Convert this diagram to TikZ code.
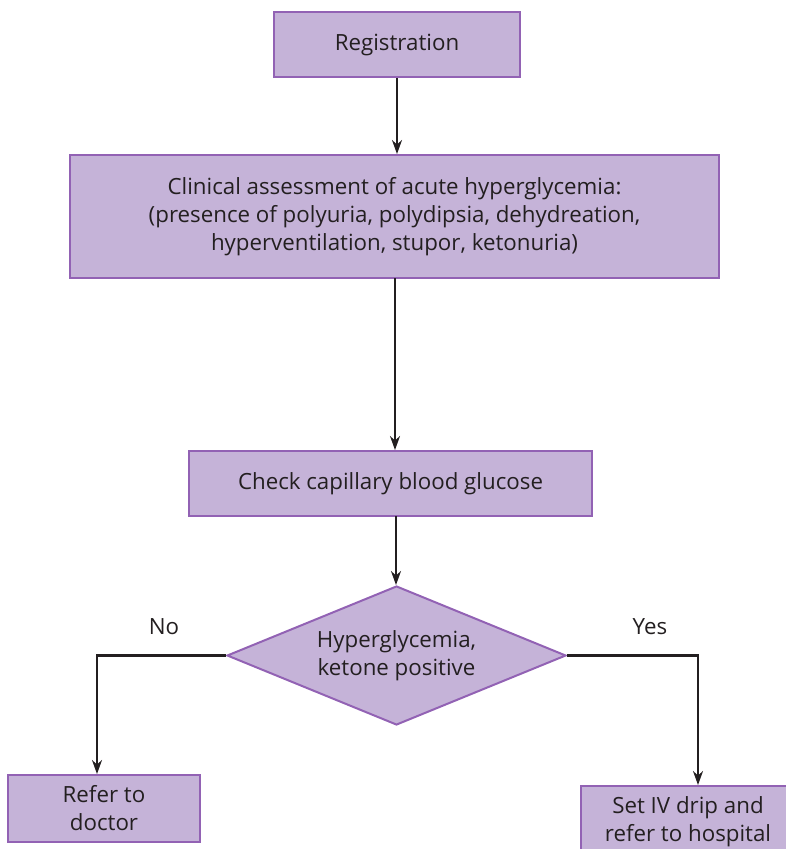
\documentclass[tikz,border=0pt]{standalone}
\usepackage{fontspec}
\setmainfont{Open Sans}
\usetikzlibrary{shapes.geometric,arrows.meta}
\definecolor{boxfill}{HTML}{C5B3D8}
\definecolor{boxline}{HTML}{9262B4}
\definecolor{ink}{HTML}{231F20}
\tikzset{
  stepbox/.style={draw=boxline, fill=boxfill, line width=2pt, align=center,
    text=ink, font=\fontsize{22.3}{28}\selectfont, inner sep=0pt},
  decision/.style={stepbox, diamond, aspect=2.44},
  flow/.style={-{Stealth[length=14pt,width=10pt]}, line width=2.2pt, ink},
  lbl/.style={text=ink, font=\fontsize{22.3}{28}\selectfont}
}
\begin{document}
\begin{tikzpicture}[x=1pt, y=1pt]
\useasboundingbox (0,0) rectangle (785,-849);
\node[stepbox, minimum width=246, minimum height=65] (reg) at (397,-44.5) {Registration};
\node[stepbox, minimum width=649, minimum height=123] (clin) at (394.5,-216.5)
  {Clinical assessment of acute hyperglycemia:\\(presence of polyuria, polydipsia, dehydreation,\\hyperventilation, stupor, ketonuria)};
\node[stepbox, minimum width=403, minimum height=65] (check) at (390.5,-483.5) {Check capillary blood glucose};
\node[decision, minimum width=339, minimum height=139] (dec) at (396.5,-655.5) {Hyperglycemia,\\ketone positive};
\node[stepbox, minimum width=192, minimum height=67] (doc) at (104,-808.5) {Refer to\\doctor};
\node[stepbox, minimum width=214, minimum height=72] (iv) at (688,-822) {Set IV drip and\\refer to hospital};

\draw[flow] (reg.south) -- (reg.south |- clin.north);
\draw[flow] (395,-278) coordinate (c1) -- (c1 |- check.north);
\draw[flow] (396,-516) coordinate (c2) -- (c2 |- dec.north);
\draw[flow] (dec.west) -| (doc.north -| 97,0);
\draw[flow] (dec.east) -| (iv.north -| 698,0);
\node[lbl] (no) at (164,-627) {No};
\node[lbl] (yes) at (650,-627) {Yes};
\end{tikzpicture}
\end{document}
